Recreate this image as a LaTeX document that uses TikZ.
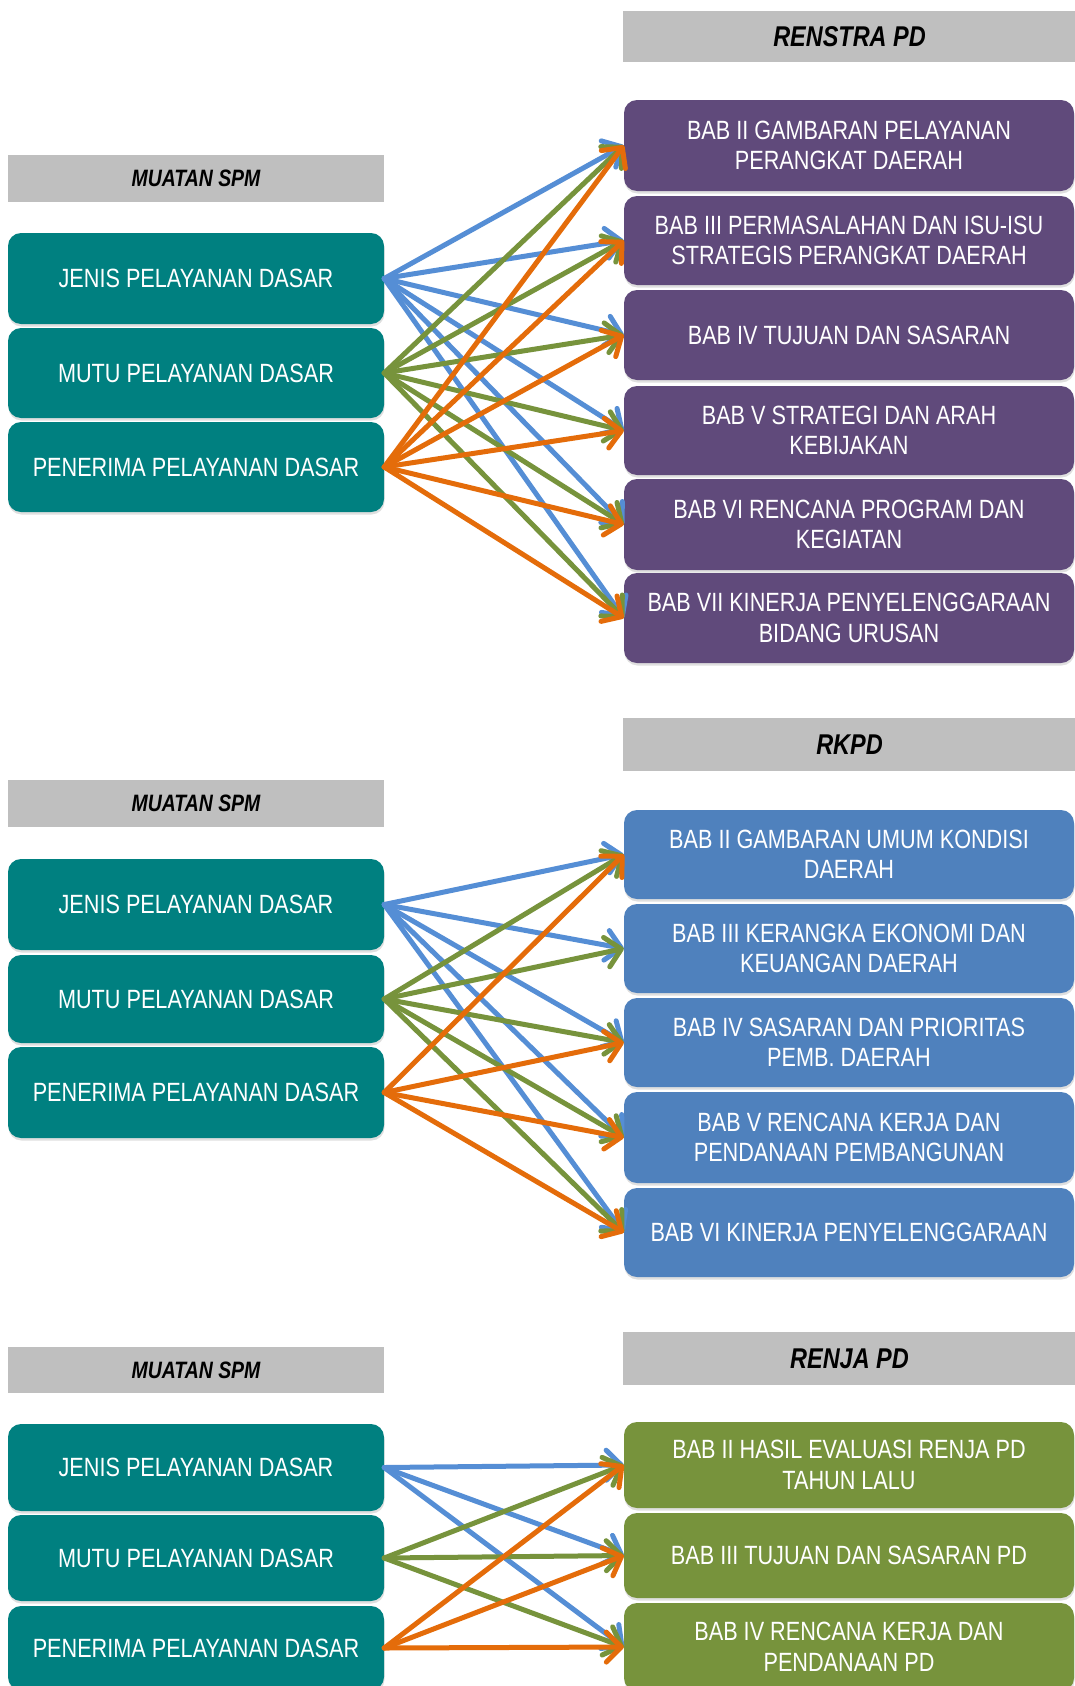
\documentclass[tikz,border=0pt]{standalone}
\usepackage{fontspec}
\setmainfont{Liberation Sans}[FakeStretch=0.82]
\usetikzlibrary{arrows.meta,shadows}
\definecolor{tealbox}{HTML}{008080}
\definecolor{purpbox}{HTML}{604A7B}
\definecolor{bluebox}{HTML}{4F81BD}
\definecolor{greenbox}{HTML}{77933C}
\definecolor{hdrgray}{HTML}{BFBFBF}
\definecolor{arrblue}{HTML}{558ED5}
\definecolor{arrgreen}{HTML}{77933C}
\definecolor{arrorange}{HTML}{E46C0A}
\begin{document}
\begin{tikzpicture}[x=1pt,y=-1pt,
  box/.style={rounded corners=13pt, text=white, align=center, inner sep=0pt,
    font=\fontsize{26.4}{30.5}\selectfont,
    drop shadow={opacity=0.25, shadow xshift=0.5pt, shadow yshift=-2.5pt}},
  lbox/.style={box, fill=tealbox, minimum width=376pt, minimum height=#1},
  pbox/.style={box, fill=purpbox, minimum width=450pt, minimum height=#1},
  bbox/.style={box, fill=bluebox, minimum width=450pt, minimum height=#1},
  gbox/.style={box, fill=greenbox, minimum width=450pt, minimum height=#1},
  lhdr/.style={fill=hdrgray, inner sep=0pt, minimum width=376pt, minimum height=#1,
    font=\fontsize{23.7}{28}\selectfont\bfseries\itshape},
  rhdr/.style={fill=hdrgray, inner sep=0pt, minimum width=453pt, minimum height=#1,
    font=\fontsize{28.6}{32}\selectfont\bfseries\itshape},
  arr/.style={line width=5pt, line cap=round, line join=round,
    -{Straight Barb[length=15pt,width=30pt,round]}}
]
\useasboundingbox (0,0) rectangle (1074,1686);
\fill[white] (0,0) rectangle (1074,1686);

% ---------------- Section 1: RENSTRA PD ----------------
\node[rhdr=51pt] (h1r) at (849.5,36.5) {RENSTRA PD};
\node[lhdr=47pt] (h1l) at (196,178.5) {MUATAN SPM};
\node[lbox=91pt] (s1j) at (196,278.5) {JENIS PELAYANAN DASAR};
\node[lbox=90pt] (s1m) at (196,373) {MUTU PELAYANAN DASAR};
\node[lbox=90pt] (s1p) at (196,467) {PENERIMA PELAYANAN DASAR};
\node[pbox=91pt] (s1r1) at (849,145.5) {BAB II GAMBARAN PELAYANAN\\PERANGKAT DAERAH};
\node[pbox=89pt] (s1r2) at (849,240.5) {BAB III PERMASALAHAN DAN ISU-ISU\\STRATEGIS PERANGKAT DAERAH};
\node[pbox=90pt] (s1r3) at (849,335) {BAB IV TUJUAN DAN SASARAN};
\node[pbox=89pt] (s1r4) at (849,430.5) {BAB V STRATEGI DAN ARAH\\KEBIJAKAN};
\node[pbox=91pt] (s1r5) at (849,524.5) {BAB VI RENCANA PROGRAM DAN\\KEGIATAN};
\node[pbox=90pt] (s1r6) at (849,618) {BAB VII KINERJA PENYELENGGARAAN\\BIDANG URUSAN};
\foreach \t in {1,...,6} \draw[arr, arrblue] (s1j.east) -- (s1r\t.west);
\foreach \t in {1,...,6} \draw[arr, arrgreen] (s1m.east) -- (s1r\t.west);
\foreach \t in {1,...,6} \draw[arr, arrorange] (s1p.east) -- (s1r\t.west);

% ---------------- Section 2: RKPD ----------------
\node[rhdr=53pt] (h2r) at (849.5,744.5) {RKPD};
\node[lhdr=47pt] (h2l) at (196,803.5) {MUATAN SPM};
\node[lbox=91pt] (s2j) at (196,904.5) {JENIS PELAYANAN DASAR};
\node[lbox=88pt] (s2m) at (196,999) {MUTU PELAYANAN DASAR};
\node[lbox=91pt] (s2p) at (196,1092.5) {PENERIMA PELAYANAN DASAR};
\node[bbox=89pt] (s2r1) at (849,854.5) {BAB II GAMBARAN UMUM KONDISI\\DAERAH};
\node[bbox=89pt] (s2r2) at (849,948.5) {BAB III KERANGKA EKONOMI DAN\\KEUANGAN DAERAH};
\node[bbox=89pt] (s2r3) at (849,1042.5) {BAB IV SASARAN DAN PRIORITAS\\PEMB. DAERAH};
\node[bbox=91pt] (s2r4) at (849,1137.5) {BAB V RENCANA KERJA DAN\\PENDANAAN PEMBANGUNAN};
\node[bbox=89pt] (s2r5) at (849,1232.5) {BAB VI KINERJA PENYELENGGARAAN};
\foreach \t in {1,...,5} \draw[arr, arrblue] (s2j.east) -- (s2r\t.west);
\foreach \t in {1,...,5} \draw[arr, arrgreen] (s2m.east) -- (s2r\t.west);
\foreach \t in {1,3,4,5} \draw[arr, arrorange] (s2p.east) -- (s2r\t.west);

% ---------------- Section 3: RENJA PD ----------------
\node[rhdr=53pt] (h3r) at (849.5,1358.5) {RENJA PD};
\node[lhdr=46pt] (h3l) at (196,1370) {MUATAN SPM};
\node[lbox=87pt] (s3j) at (196,1467.5) {JENIS PELAYANAN DASAR};
\node[lbox=86pt] (s3m) at (196,1558) {MUTU PELAYANAN DASAR};
\node[lbox=84pt] (s3p) at (196,1648) {PENERIMA PELAYANAN DASAR};
\node[gbox=86pt] (s3r1) at (849,1465) {BAB II HASIL EVALUASI RENJA PD\\TAHUN LALU};
\node[gbox=85pt] (s3r2) at (849,1555.5) {BAB III TUJUAN DAN SASARAN PD};
\node[gbox=88pt] (s3r3) at (849,1647) {BAB IV RENCANA KERJA DAN\\PENDANAAN PD};
\foreach \t in {1,...,3} \draw[arr, arrblue] (s3j.east) -- (s3r\t.west);
\foreach \t in {1,...,3} \draw[arr, arrgreen] (s3m.east) -- (s3r\t.west);
\foreach \t in {1,...,3} \draw[arr, arrorange] (s3p.east) -- (s3r\t.west);
\end{tikzpicture}
\end{document}
